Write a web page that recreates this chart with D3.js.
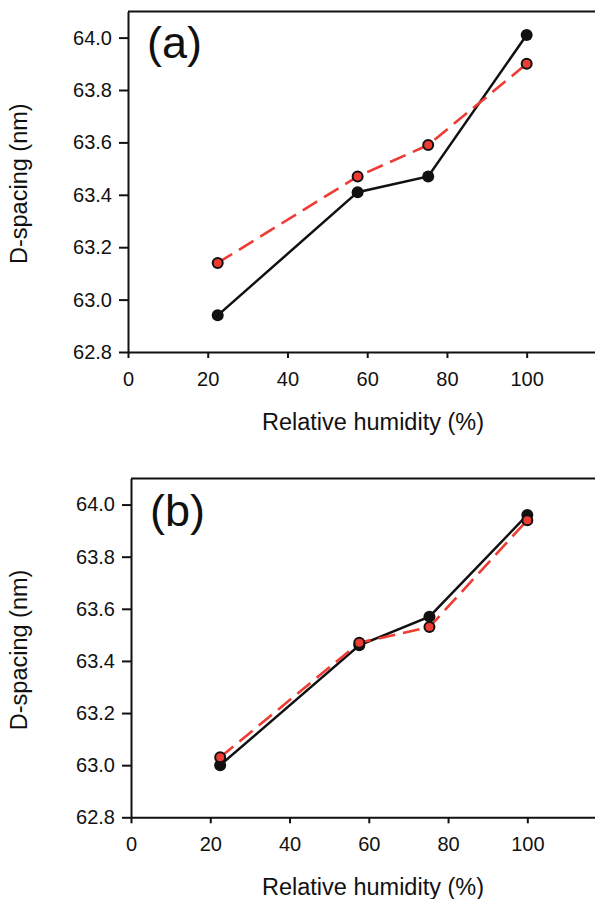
<!DOCTYPE html>
<html>
<head>
<meta charset="utf-8">
<script src="https://cdn.jsdelivr.net/npm/d3@7"></script>
<style>
  html, body { margin: 0; padding: 0; background: #fff; }
  svg { display: block; }
  text { font-family: "Liberation Sans", Arial, sans-serif; fill: #111; }
</style>
</head>
<body>
<svg id="chart" width="595" height="899"></svg>
<script>
// Relative humidity levels (%) at which D-spacing was measured
const humidity = [22.5, 57.6, 75.3, 100];

// Panel (a) D-spacing (nm)
const aBlack = [62.94, 63.41, 63.47, 64.01];
const aRed   = [63.14, 63.47, 63.59, 63.90];

// Panel (b) D-spacing (nm)
const bBlack = [63.00, 63.46, 63.57, 63.96];
const bRed   = [63.03, 63.47, 63.53, 63.94];

// Axis ticks
const xTicks = [0, 20, 40, 60, 80, 100];
const yTicks = [62.8, 63.0, 63.2, 63.4, 63.6, 63.8, 64.0];
const xDomain = [0, 120];
const yDomain = [62.8, 64.1];

const RED = "#ee3b33";
const svg = d3.select("#chart");

const panels = [
  { label: "(a)", left: 128, top: 11.4, bottom: 352, right: 606.4, black: aBlack, red: aRed },
  { label: "(b)", left: 131, top: 478.5, bottom: 817.3, right: 606.6, black: bBlack, red: bRed }
];

panels.forEach(p => {
  const x = d3.scaleLinear().domain(xDomain).range([p.left, p.right]);
  const y = d3.scaleLinear().domain(yDomain).range([p.bottom, p.top]);
  const g = svg.append("g");

  // Frame top edge and right edge
  g.append("path")
    .attr("d", `M${p.left},${p.top}H${p.right}V${p.bottom}`)
    .attr("fill", "none").attr("stroke", "#111").attr("stroke-width", 2);

  // Y axis
  const yAxis = g.append("g")
    .attr("transform", `translate(${p.left},0)`)
    .call(d3.axisLeft(y).tickValues(yTicks).tickFormat(d3.format(".1f"))
      .tickSize(9).tickPadding(7).tickSizeOuter(0));
  // X axis
  const xAxis = g.append("g")
    .attr("transform", `translate(0,${p.bottom})`)
    .call(d3.axisBottom(x).tickValues(xTicks).tickFormat(d3.format("d"))
      .tickSize(6).tickPadding(14).tickSizeOuter(0));

  [yAxis, xAxis].forEach(ax => {
    ax.select(".domain").attr("stroke", "#111").attr("stroke-width", 2);
    ax.selectAll(".tick line").attr("stroke", "#111").attr("stroke-width", 2);
    ax.selectAll(".tick text").attr("font-size", 20).attr("fill", "#111")
      .style("font-family", '"Liberation Sans", Arial, sans-serif');
  });

  // Axis titles
  g.append("text")
    .attr("x", 373).attr("y", p.bottom + 78)
    .attr("text-anchor", "middle").attr("font-size", 23.5)
    .text("Relative humidity (%)");
  g.append("text")
    .attr("transform", `translate(27,${(p.top + p.bottom) / 2 + 2}) rotate(-90)`)
    .attr("text-anchor", "middle").attr("font-size", 23.5)
    .text("D-spacing (nm)");

  // Panel label
  g.append("text")
    .attr("x", p.left + 19).attr("y", p.top + 47)
    .attr("font-size", 45)
    .text(p.label);

  const line = d3.line().x((d, i) => x(humidity[i])).y(d => y(d));

  // Black series: solid line, filled black markers
  g.append("path").datum(p.black)
    .attr("d", line).attr("fill", "none")
    .attr("stroke", "#111").attr("stroke-width", 2.5);
  g.selectAll(".mk-black").data(p.black).join("circle")
    .attr("class", "mk-black")
    .attr("cx", (d, i) => x(humidity[i])).attr("cy", d => y(d))
    .attr("r", 6).attr("fill", "#111");

  // Red series: dashed line, red markers with dark outline
  g.append("path").datum(p.red)
    .attr("d", line).attr("fill", "none")
    .attr("stroke", RED).attr("stroke-width", 2.6)
    .attr("stroke-dasharray", "17,8");
  g.selectAll(".mk-red").data(p.red).join("circle")
    .attr("class", "mk-red")
    .attr("cx", (d, i) => x(humidity[i])).attr("cy", d => y(d))
    .attr("r", 5).attr("fill", RED)
    .attr("stroke", "#111").attr("stroke-width", 2);
});
</script>
</body>
</html>
